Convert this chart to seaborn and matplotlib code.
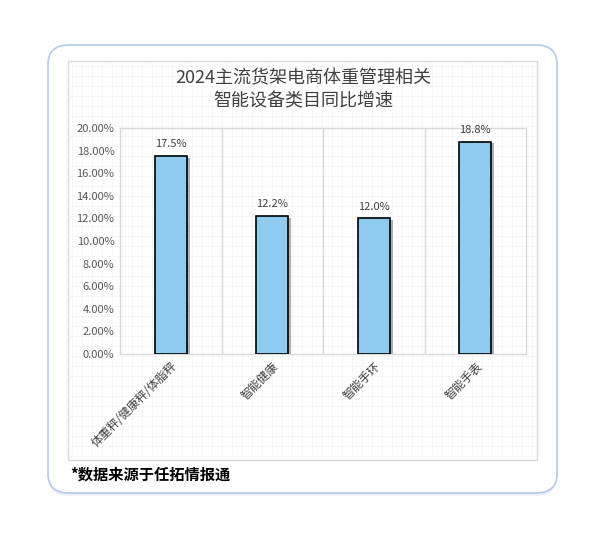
import matplotlib.pyplot as plt
import matplotlib.patheffects as pe
from matplotlib.patches import FancyBboxPatch, Rectangle
from matplotlib.lines import Line2D
import pandas as pd
import seaborn as sns

categories = ["体重秤/健康秤/体脂秤", "智能健康", "智能手环", "智能手表"]
growth = [17.5, 12.2, 12.0, 18.8]
yticks = [0, 2, 4, 6, 8, 10, 12, 14, 16, 18, 20]

data = pd.DataFrame({"cat": categories, "growth": growth})

sns.set_style("white")
plt.rcParams["font.family"] = ["Noto Sans CJK SC", "DejaVu Sans"]

W, H = 606, 545
fig = plt.figure(figsize=(W / 100, H / 100), dpi=100)
fig.patch.set_facecolor("white")


def fx(px):
    return px / W


def fy(py):
    return 1 - py / H


# outer card
card = FancyBboxPatch((fx(48), fy(493)), fx(557) - fx(48), fy(45) - fy(493),
                      boxstyle="round,pad=0,rounding_size=0.035",
                      transform=fig.transFigure, facecolor="white",
                      edgecolor="#B9C7EE", linewidth=1.2, zorder=0,
                      path_effects=[pe.withSimplePatchShadow(offset=(0, -2), shadow_rgbFace="#DDE3F5", alpha=0.6)])
fig.patches.append(card)

# inner chart frame with faint grid pattern
frame = Rectangle((fx(68), fy(460)), fx(537) - fx(68), fy(61) - fy(460),
                  transform=fig.transFigure, facecolor="white",
                  edgecolor="#D9D9D9", linewidth=1, zorder=0.5)
fig.patches.append(frame)
x = 72
while x < 536:
    fig.lines.append(Line2D([fx(x)] * 2, [fy(460), fy(61)], transform=fig.transFigure,
                            color="#F3F3F3", linewidth=0.5, zorder=0.6))
    x += 10
y = 66
while y < 459:
    fig.lines.append(Line2D([fx(68), fx(537)], [fy(y)] * 2, transform=fig.transFigure,
                            color="#F3F3F3", linewidth=0.5, zorder=0.6))
    y += 10

ax = fig.add_axes([fx(120), fy(354), fx(526) - fx(120), fy(128) - fy(354)])
ax.set_zorder(2)
ax.set_facecolor("none")

sns.barplot(data=data, x="cat", y="growth", color="#8ECBEF", saturation=1, width=0.32,
            edgecolor="black", linewidth=1.2, ax=ax, zorder=3)
for bar in ax.patches:
    bar.set_path_effects([pe.SimplePatchShadow(offset=(2, -1), shadow_rgbFace="#555555", alpha=0.45), pe.Normal()])

for i, v in enumerate(growth):
    ax.text(i, v + 0.6, f"{v:.1f}%", ha="center", va="bottom", fontsize=8, color="#404040")

ax.set_ylim(0, 20)
ax.set_xlim(-0.5, 3.5)
ax.set_yticks(yticks)
ax.set_yticklabels([f"{t:.2f}%" for t in yticks], fontsize=8, color="#595959")
ax.set_xticks(range(len(categories)))
ax.set_xticklabels(categories, rotation=45, ha="right", rotation_mode="anchor",
                   fontsize=8.5, color="#404040")
ax.tick_params(axis="both", length=0, pad=4)
ax.set_xticks([0.5, 1.5, 2.5], minor=True)
ax.tick_params(axis="x", which="minor", length=0)
ax.grid(axis="x", which="minor", color="#D9D9D9", linewidth=1)
ax.grid(axis="x", which="major", visible=False)
ax.grid(axis="y", visible=False)
for s in ax.spines.values():
    s.set_color("#D9D9D9")
    s.set_linewidth(1)
ax.set_xlabel("")
ax.set_ylabel("")

fig.text(fx(303), fy(78), "2024主流货架电商体重管理相关", ha="center", va="center",
         fontsize=13, color="#404040")
fig.text(fx(303), fy(101), "智能设备类目同比增速", ha="center", va="center",
         fontsize=13, color="#404040")
fig.text(fx(70), fy(475), "*数据来源于任拓情报通", ha="left", va="center",
         fontsize=11, color="black", fontweight="bold")

fig.savefig("out.png", dpi=100)
